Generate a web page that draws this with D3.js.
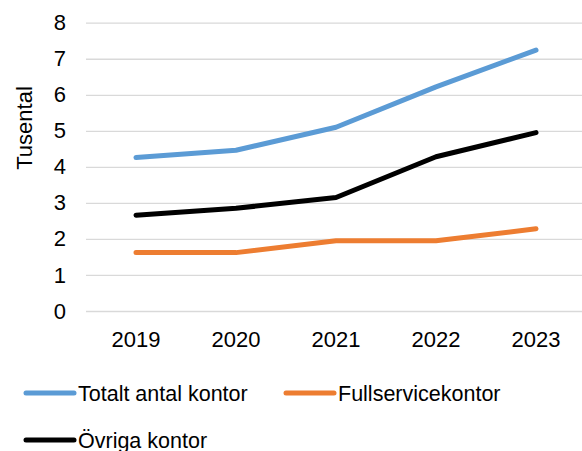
<!DOCTYPE html>
<html>
<head>
<meta charset="utf-8">
<script src="https://cdn.jsdelivr.net/npm/d3@7"></script>
<style>
  body { margin: 0; background: #fff; }
  svg text { font-family: "Liberation Sans", Arial, sans-serif; fill: #000; }
  .grid line { stroke: #d9d9d9; stroke-width: 1.3; }
  .grid path { display: none; }
</style>
</head>
<body>
<svg id="chart" width="582" height="451"></svg>
<script>
// DATA
var years = ["2019", "2020", "2021", "2022", "2023"];
var totalt = [4.26, 4.46, 5.1, 6.22, 7.24];
var fullservice = [1.62, 1.62, 1.95, 1.95, 2.28];
var ovriga = [2.66, 2.85, 3.15, 4.28, 4.95];
var yTicks = [0, 1, 2, 3, 4, 5, 6, 7, 8];
var series = [
  { label: "Totalt antal kontor", values: totalt, color: "#5b9bd5" },
  { label: "Fullservicekontor", values: fullservice, color: "#ed7d31" },
  { label: "Övriga kontor", values: ovriga, color: "#000000" }
];

// SIZING
var plotLeft = 86, plotRight = 586, plotTop = 22.7, plotBottom = 311;

var svg = d3.select("#chart");

var xScale = d3.scaleBand().domain(years).range([plotLeft, plotRight]);
var yScale = d3.scaleLinear().domain([0, 8]).range([plotBottom, plotTop]);

// GRIDLINES + Y LABELS
svg.append("g")
  .attr("class", "grid")
  .attr("transform", "translate(" + plotLeft + ",0)")
  .call(d3.axisLeft(yScale).tickValues(yTicks).tickSize(-(582 - plotLeft)).tickPadding(20))
  .selectAll("text")
  .style("font-size", "22px");

// X LABELS
svg.append("g")
  .attr("class", "grid")
  .attr("transform", "translate(0," + plotBottom + ")")
  .call(d3.axisBottom(xScale).tickSize(0).tickPadding(20))
  .selectAll("text")
  .style("font-size", "22px");

// AXIS TITLE
svg.append("text")
  .text("Tusental")
  .attr("transform", "translate(32,128) rotate(-90)")
  .attr("text-anchor", "middle")
  .style("font-size", "22px");

// LINES
var line = d3.line()
  .x(function(d, i) { return xScale(years[i]) + xScale.bandwidth() / 2; })
  .y(function(d) { return yScale(d); });

series.forEach(function(s) {
  svg.append("path")
    .datum(s.values)
    .attr("d", line)
    .attr("fill", "none")
    .attr("stroke", s.color)
    .attr("stroke-width", 5)
    .attr("stroke-linejoin", "round")
    .attr("stroke-linecap", "round");
});

// LEGEND
var legendPos = [[26, 393], [286, 393], [26, 440]];
series.forEach(function(s, i) {
  var g = svg.append("g").attr("transform", "translate(" + legendPos[i][0] + "," + legendPos[i][1] + ")");
  g.append("line")
    .attr("x1", 0).attr("x2", 48)
    .attr("stroke", s.color)
    .attr("stroke-width", 5)
    .attr("stroke-linecap", "round");
  g.append("text")
    .text(s.label)
    .attr("x", 52)
    .attr("dy", "0.36em")
    .style("font-size", "21.5px");
});
</script>
</body>
</html>
